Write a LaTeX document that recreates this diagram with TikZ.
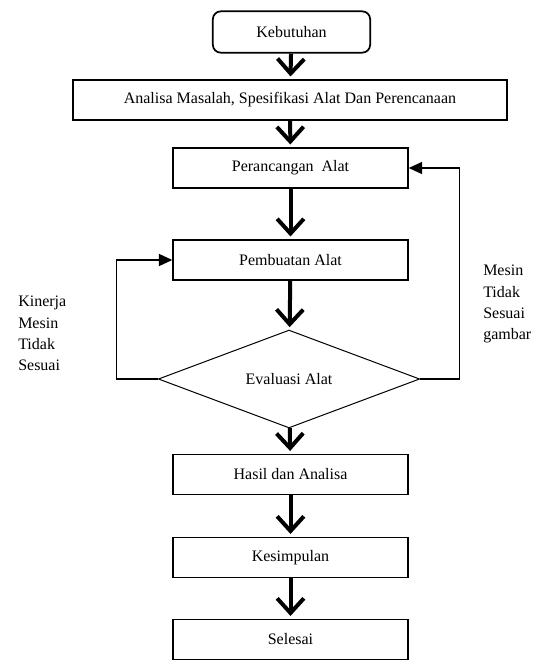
\documentclass[tikz,border=0pt]{standalone}
\usepackage{fontspec}
\setmainfont{Liberation Serif}
\usetikzlibrary{arrows.meta,shapes.geometric}
\tikzset{box/.style = {draw, line width=1.3pt, minimum width=176pt, minimum height=30pt, inner sep=2pt, font=\fontsize{12}{14}\selectfont}}
\tikzset{startbox/.style = {box, rounded corners=6pt, minimum width=118pt, minimum height=31pt}}
\tikzset{decide/.style = {draw, diamond, line width=0.75pt, minimum width=196pt, minimum height=49pt, inner sep=0pt, font=\fontsize{12}{14}\selectfont}}
\tikzset{flow/.style = {line width=3pt, -{Straight Barb[length=11pt, width=20pt]}, shorten >=2pt}}
\tikzset{back/.style = {line width=0.9pt, -{Triangle[length=10pt, width=9pt]}}}
\tikzset{note/.style = {align=left, anchor=north west, inner sep=0pt, font=\fontsize{12}{16}\selectfont}}

\begin{document}
\begin{tikzpicture}[x=0.75pt, y=-0.75pt]
      \useasboundingbox (0,0) rectangle (536,661);
      \node [startbox] (butuh) at (291.5,32) {Kebutuhan};
      \node [box, minimum width=325pt] (analisa) at (290,100) {Analisa Masalah, Spesifikasi Alat Dan Perencanaan};
      \node [box] (rancang) at (290.5,168) {Perancangan\ \ Alat};
      \node [box] (buat) at (290.5,260) {Pembuatan Alat};
      \node [decide] (eval) at (289,379) {Evaluasi Alat};
      \node [box] (hasil) at (290.5,474.5) {Hasil dan Analisa};
      \node [box] (simpul) at (290.5,557.5) {Kesimpulan};
      \node [box] (selesai) at (290.5,639.5) {Selesai};
      \draw [flow] (butuh) -- (analisa);
      \draw [flow] (analisa) -- (rancang);
      \draw [flow] (rancang) -- (buat);
      \draw [flow] (buat) -- (eval);
      \draw [flow] (eval) -- (hasil);
      \draw [flow] (hasil) -- (simpul);
      \draw [flow] (simpul) -- (selesai);
      \draw [back] (eval.west) -- ++(-41,0) |- (buat.west);
      \draw [back] (eval.east) -- ++(39,0) |- (rancang.east);
      \node [note] (kinerja) at (18,296) {Kinerja\\Mesin\\Tidak\\Sesuai};
      \node [note] (gambar) at (483,265) {Mesin\\Tidak\\Sesuai\\gambar};
    \end{tikzpicture}
\end{document}
